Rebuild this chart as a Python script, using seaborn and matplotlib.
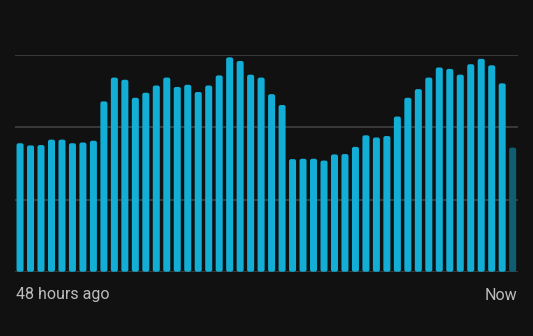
import matplotlib
matplotlib.use("Agg")
import matplotlib.pyplot as plt
import seaborn as sns
import pandas as pd
from matplotlib.patches import FancyBboxPatch

hours = list(range(48))
values = [1.78, 1.75, 1.755, 1.83, 1.83, 1.78, 1.79, 1.815,
          2.36, 2.69, 2.66, 2.41, 2.48, 2.58, 2.69, 2.56,
          2.59, 2.49, 2.58, 2.72, 2.97, 2.92, 2.73, 2.69,
          2.46, 2.31, 1.56, 1.565, 1.565, 1.54, 1.625, 1.63,
          1.73, 1.89, 1.86, 1.88, 2.15, 2.41, 2.53, 2.69,
          2.83, 2.81, 2.73, 2.875, 2.95, 2.86, 2.61, 1.72]
status = ["past"] * 47 + ["current"]
grid_levels = [0, 1, 2, 3]
left_label = "48 hours ago"
right_label = "Now"

BG = "#111111"
BAR = "#12aed6"
DIM = "#0e5f73"
GRID = "#444444"
TXT = "#bdbdbd"

sns.set_theme(style="dark")
plt.rcParams["font.family"] = ["Roboto", "DejaVu Sans"]

df = pd.DataFrame({"hour": hours, "value": values, "status": status})

W, H = 533, 336
fig = plt.figure(figsize=(W / 100, H / 100), dpi=100, facecolor=BG)
ax = fig.add_axes([14.8 / W, (H - 271.7) / H, (517.9 - 14.8) / W, (271.7 - 55.2) / H])
ax.set_facecolor(BG)

for g in grid_levels:
    ax.axhline(g, color=GRID, lw=1.1, zorder=0)

sns.barplot(data=df, x="hour", y="value", hue="status",
            palette={"past": BAR, "current": DIM}, dodge=False,
            width=0.67, legend=False, ax=ax, zorder=2, saturation=1)

ax.set_xlim(-0.5, 47.5)
ax.set_ylim(0, 3)

# round the top corners of each bar
aspect = (3 / (271.7 - 55.2)) / (47.96 / (517.9 - 14.8))
for p in list(ax.patches):
    x0, y0 = p.get_x(), p.get_y()
    w, h = p.get_width(), p.get_height()
    if h <= 0:
        continue
    fb = FancyBboxPatch((x0, y0), w, h,
                        boxstyle="round,pad=0,rounding_size=0.2",
                        mutation_aspect=aspect,
                        facecolor=p.get_facecolor(), edgecolor="none", zorder=2)
    p.remove()
    ax.add_patch(fb)

for s in ax.spines.values():
    s.set_visible(False)
ax.set_xticks([])
ax.set_yticks([])
ax.set_xlabel("")
ax.set_ylabel("")
ax.grid(False)

fig.text(16 / W, 1 - 295 / H, left_label, color=TXT, fontsize=11.5,
         ha="left", va="center")
fig.text(517 / W, 1 - 295 / H, right_label, color=TXT, fontsize=11.5,
         ha="right", va="center")

fig.savefig("out.png", dpi=100, facecolor=BG)
